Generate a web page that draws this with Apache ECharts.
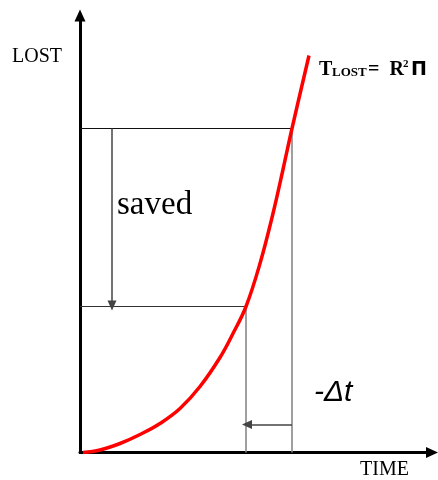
<!DOCTYPE html>
<html>
<head>
<meta charset="utf-8">
<script src="https://cdn.jsdelivr.net/npm/echarts@6/dist/echarts.min.js"></script>
<style>
  html, body { margin: 0; padding: 0; background: #fff; }
  #chart { width: 438px; height: 480px; }
</style>
</head>
<body>
<div id="chart"></div>
<script>
// curve T_lost over time (arbitrary units)
const curveTime = [3, 20, 40, 60, 80, 100, 120, 140, 153, 166, 180, 193, 203, 212, 229];
const curveLost = [0, 2.5, 9, 18, 29, 44, 66, 95, 119, 146, 189, 239, 283, 324, 397];
// the two marked moments on the curve
const markTime = [166, 212];
const markLost = [146, 324];
const arrowX = 32;     // "saved" arrow position on time axis
const arrowY = 28;     // "-Δt" arrow position on lost axis
const xMax = 352;
const yMax = 437;

const chart = echarts.init(document.getElementById('chart'));

const axisCommon = {
  type: 'value',
  min: 0,
  axisLabel: { show: false },
  axisTick: { show: false },
  splitLine: { show: false },
  axisLine: {
    show: true,
    symbol: ['none', 'triangle'],
    symbolSize: [11, 12],
    lineStyle: { color: '#000', width: 3 }
  }
};

function seg(points, color, width) {
  return {
    type: 'line',
    data: points,
    symbol: 'none',
    silent: true,
    lineStyle: { color: color, width: width },
    z: 2
  };
}

const curve = curveTime.map((t, i) => [t, curveLost[i]]);

chart.setOption({
  animation: false,
  grid: { left: 80, right: 6, top: 15.5, bottom: 27.5 },
  xAxis: Object.assign({}, axisCommon, { max: xMax }),
  yAxis: Object.assign({}, axisCommon, { max: yMax }),
  series: [
    seg([[0, markLost[1]], [markTime[1], markLost[1]]], '#111', 1.1),
    seg([[0, markLost[0]], [markTime[0], markLost[0]]], '#333', 1.1),
    seg([[markTime[0], markLost[0]], [markTime[0], 0]], '#888', 1.6),
    seg([[markTime[1], markLost[1]], [markTime[1], 0]], '#888', 1.6),
    {
      type: 'line',
      data: [],
      markLine: {
        silent: true,
        symbol: ['none', 'triangle'],
        symbolSize: [9, 10],
        label: { show: false },
        lineStyle: { color: '#444', width: 1.5, type: 'solid' },
        data: [
          [{ coord: [arrowX, markLost[1]] }, { coord: [arrowX, markLost[0] + 1] }],
          [{ coord: [markTime[1], arrowY] }, { coord: [markTime[0] + 1, arrowY] }]
        ]
      }
    },
    {
      type: 'line',
      data: curve,
      smooth: 0.4,
      symbol: 'none',
      lineStyle: { color: '#ff0000', width: 3.5 },
      z: 5
    }
  ],
  graphic: [
    { type: 'text', x: 12, y: 57, style: { text: 'LOST', font: '20px "Liberation Serif"', fill: '#000', verticalAlign: 'middle' } },
    { type: 'text', x: 360, y: 470, style: { text: 'TIME', font: '20px "Liberation Serif"', fill: '#000', verticalAlign: 'middle' } },
    { type: 'text', x: 117, y: 205, style: { text: 'saved', font: '33px "Liberation Serif"', fill: '#000', verticalAlign: 'middle' } },
    { type: 'text', x: 314, y: 393, style: { text: '-Δt', font: 'italic 30px "Liberation Sans"', fill: '#000', verticalAlign: 'middle' } },
    { type: 'text', x: 319, y: 70, style: { text: 'T', font: 'bold 20px "Liberation Serif"', fill: '#000', verticalAlign: 'middle' } },
    { type: 'text', x: 332, y: 73, style: { text: 'LOST', font: 'bold 13px "Liberation Serif"', fill: '#000', verticalAlign: 'middle' } },
    { type: 'text', x: 368, y: 70, style: { text: '=  R', font: 'bold 20px "Liberation Serif"', fill: '#000', verticalAlign: 'middle' } },
    { type: 'text', x: 403, y: 64, style: { text: '2', font: 'bold 11px "Liberation Serif"', fill: '#000', verticalAlign: 'middle' } },
    { type: 'text', x: 411, y: 70, style: { text: 'Π', font: 'bold 19px "DejaVu Sans"', fill: '#000', verticalAlign: 'middle' } }
  ]
});
</script>
</body>
</html>
